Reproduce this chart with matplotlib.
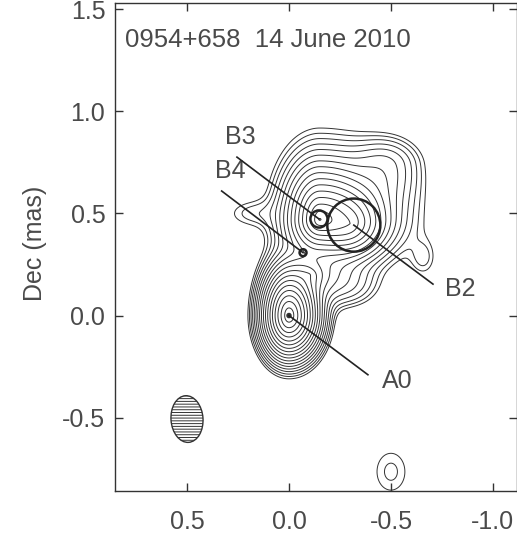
import numpy as np
import matplotlib
matplotlib.use("Agg")
import matplotlib.pyplot as plt
from matplotlib.patches import Ellipse, Circle

plt.rcParams["font.family"] = ["Liberation Sans", "DejaVu Sans"]
plt.rcParams["axes.unicode_minus"] = False
plt.rcParams["hatch.linewidth"] = 0.7

INK = "#333333"
TXT = "#4a4a4a"

# brightness model: components at (RA, Dec) offsets in mas, with separate
# east/west and north/south widths; lin sets how cuspy the core is
comp_x = [0.00, -0.10, -0.15, -0.30, -0.48, -0.28, 0.19, -0.66, -0.50]
comp_y = [0.00, 0.20, 0.47, 0.45, 0.74, 0.15, 0.50, 0.28, -0.765]
comp_amp = [1.0, 0.050, 0.41, 0.10, 0.016, 0.012, 0.0062, 0.0058, 0.0066]
comp_ax_e = [0.085, 0.12, 0.217, 0.10, 0.10, 0.10, 0.090, 0.045, 0.078]
comp_ax_w = [0.095, 0.14, 0.405, 0.10, 0.10, 0.10, 0.090, 0.045, 0.078]
comp_ay_n = [0.150, 0.10, 0.360, 0.10, 0.08, 0.07, 0.050, 0.065, 0.103]
comp_ay_s = [0.131, 0.10, 0.240, 0.10, 0.12, 0.07, 0.050, 0.065, 0.103]
comp_lin = [1.1, 1.0, 3.0, 0.5, 0.0, 0.0, 0.0, 0.0, 0.0]

# contour levels (fraction of peak), factor 1.35 apart
levels = [0.0045 * 1.35 ** k for k in range(19)]

# model-fit components: name, RA, Dec, radius, label position
mf_name = ["A0", "B4", "B3", "B2"]
mf_x = [0.00, -0.069, -0.147, -0.318]
mf_y = [0.00, 0.308, 0.473, 0.443]
mf_r = [0.010, 0.017, 0.042, 0.130]
lead_x = [-0.387, 0.33, 0.255, -0.706]
lead_y = [-0.29, 0.61, 0.776, 0.154]
lab_x = [-0.53, 0.29, 0.24, -0.84]
lab_y = [-0.32, 0.71, 0.875, 0.13]

# restoring beam
beam_x, beam_y = 0.50, -0.507
beam_w, beam_h, beam_pa = 0.157, 0.229, -4

xs = np.arange(0.86, -1.13, -0.004)
ys = np.arange(-0.87, 1.54, 0.004)
X, Y = np.meshgrid(xs, ys)
Z = np.zeros_like(X)
for x0, y0, a, se, sw, sn, ss, c in zip(comp_x, comp_y, comp_amp, comp_ax_e,
                                        comp_ax_w, comp_ay_n, comp_ay_s, comp_lin):
    dx, dy = X - x0, Y - y0
    u = dx / np.where(dx > 0, se, sw)
    v = dy / np.where(dy > 0, sn, ss)
    r = np.hypot(u, v)
    Z += a * np.exp(-c * r - r ** 2 / 2)

fig = plt.figure(figsize=(5.17, 5.44), dpi=100)
ax = fig.add_axes([115 / 517, 1 - 490.7 / 544, 402 / 517, 487.7 / 544])
ax.contour(X, Y, Z, levels=levels, colors=INK, linewidths=0.7)

for i, name in enumerate(mf_name):
    if name == "A0":
        ax.add_patch(Circle((mf_x[i], mf_y[i]), mf_r[i], color=INK, zorder=4))
    else:
        ax.add_patch(Circle((mf_x[i], mf_y[i]), mf_r[i], fill=False, ec="#222222",
                            lw=1.8, zorder=4))
    ax.plot([mf_x[i], lead_x[i]], [mf_y[i], lead_y[i]], color="#222222", lw=1.2,
            zorder=4)
    ax.text(lab_x[i], lab_y[i], name, fontsize=18, color=TXT, ha="center",
            va="center")

ax.add_patch(Ellipse((beam_x, beam_y), beam_w, beam_h, angle=beam_pa,
                     facecolor="none", edgecolor=INK, lw=1.0, hatch="------"))

ax.text(0.804, 1.35, "0954+658  14 June 2010", fontsize=18.5, color=TXT,
        ha="left", va="center")

ax.set_xlim(0.853, -1.118)
ax.set_ylim(-0.858, 1.531)
ax.set_xticks([0.5, 0.0, -0.5, -1.0])
ax.set_yticks([-0.5, 0.0, 0.5, 1.0, 1.5])
ax.xaxis.set_major_formatter(matplotlib.ticker.FormatStrFormatter("%.1f"))
ax.yaxis.set_major_formatter(matplotlib.ticker.FormatStrFormatter("%.1f"))
ax.tick_params(direction="in", top=True, right=True, length=6, width=1.0,
               color=INK, labelsize=18, labelcolor=TXT)
ax.tick_params(axis="x", pad=14)
ax.tick_params(axis="y", pad=7)
for s in ax.spines.values():
    s.set_color(INK)
    s.set_linewidth(1.0)
fig.text(35 / 517, 1 - 243 / 544, "Dec (mas)", rotation=90, fontsize=18,
         color=TXT, ha="center", va="center")

fig.savefig("out.png", dpi=100)
